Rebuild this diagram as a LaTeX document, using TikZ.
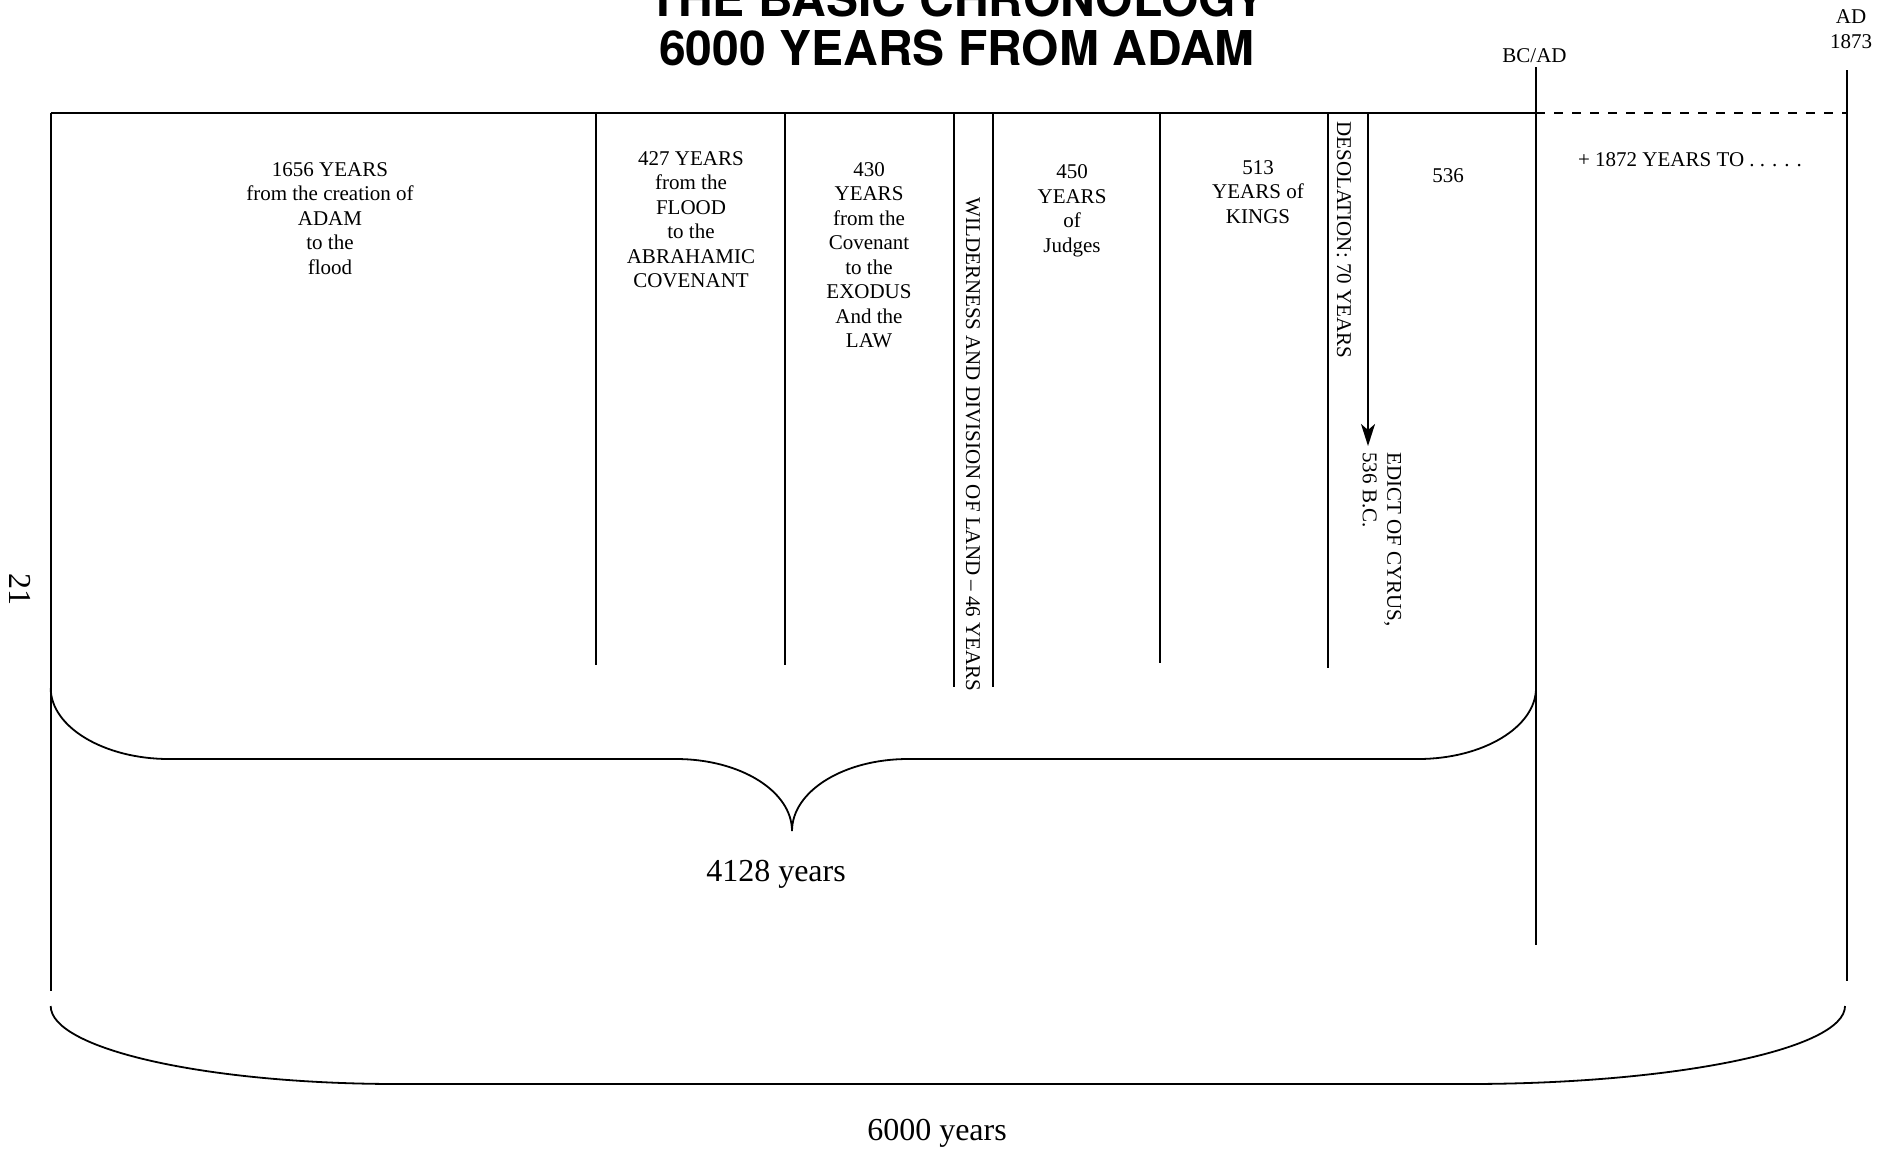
\documentclass[tikz,border=0pt]{standalone}
\usepackage{fontspec}
\setmainfont{Liberation Serif}
\newfontfamily\headfont{TeX Gyre Heros}
\usetikzlibrary{arrows.meta,positioning}

\begin{document}
\begin{tikzpicture}[
  x=0.5pt, y=-0.5pt,
  rule/.style={line width=1pt},
  brace/.style={line width=0.9pt},
  lab/.style={inner sep=0pt, anchor=north, align=center, font=\fontsize{10.5}{12.25}\selectfont},
  vlab/.style={inner sep=0pt, anchor=west, rotate=-90, align=left, font=\fontsize{10.5}{12.25}\selectfont},
  big/.style={inner sep=0pt, font=\fontsize{16}{19}\selectfont},
  arrow/.style={-{Stealth[length=11pt, width=7pt, inset=3pt]}, line width=1pt}
]
\useasboundingbox (0,0) rectangle (1893,1151);

\node[inner sep=0pt, anchor=south, align=center, font=\headfont\bfseries\fontsize{24}{24.5}\selectfont] (title) at (957,66) {THE BASIC CHRONOLOGY\\6000 YEARS FROM ADAM};

\coordinate (tl) at (50.7,113);
\coordinate (bc) at (1536,113);
\coordinate (ad) at (1847,113);
\draw[rule] (tl) -- (bc);
\draw[rule, dash pattern=on 4.5pt off 4.5pt] (bc) -- (ad);
\draw[rule] (tl) -- (50.7,991);
\draw[rule] (1536,67) -- (1536,945);
\draw[rule] (1847,70) -- (1847,981);
\foreach \x/\b in {596/665,785/665,953.5/687,992.5/687,1160/663,1328/668}
  \draw[rule] (\x,113) -- (\x,\b);

\foreach \n/\x/\y/\t in {
  adam/330/162/{1656 YEARS\\from the creation of\\ADAM\\to the\\flood},
  flood/691/151/{427 YEARS\\from the\\FLOOD\\to the\\ABRAHAMIC\\COVENANT},
  exodus/869/162/{430\\YEARS\\from the\\Covenant\\to the\\EXODUS\\And the\\LAW},
  judges/1072/164.5/{450\\YEARS\\of\\Judges},
  kings/1258/160/{513\\YEARS of\\KINGS},
  rest/1448/168/{536},
  after/1690/152/{+ 1872 YEARS TO . . . . .}}
  \node[lab] (\n) at (\x,\y) {\t};

\node[lab, anchor=center] (bcad) at (1534.5,55.5) {BC/AD};
\node[lab, anchor=center] (ad1873) at (1851,29) {AD\\1873};

\node[vlab] (wild) at (973,197) {WILDERNESS AND DIVISION OF LAND -- 46 YEARS};
\node[vlab] (desol) at (1344,121) {DESOLATION: 70 YEARS};
\coordinate (arrtop) at (1368,113);
\coordinate (arrend) at (1368,446);
\draw[arrow] (arrtop) -- (arrend);
\node[vlab] (edict) at (1382,452) {EDICT OF CYRUS,\\536 B.C.};

\draw[brace] (50.7,688) .. controls (50.7,727) and (104,759) .. (169,759) -- (676,759)
  .. controls (740,759) and (792,791) .. (792,831) .. controls (792,791) and (844,759) .. (908,759)
  -- (1418,759) .. controls (1483,759) and (1536,727) .. (1536,688);
\node[big] (sum1) at (776,874) {4128 years};
\draw[brace] (50.7,1006) .. controls (50.7,1049) and (206,1084) .. (398,1084) -- (1467,1084)
  .. controls (1676,1084) and (1845,1049) .. (1845,1006);
\node[big] (sum2) at (937,1133) {6000 years};
\node[big, rotate=-90] (page) at (20.5,589) {21};
\end{tikzpicture}
\end{document}
